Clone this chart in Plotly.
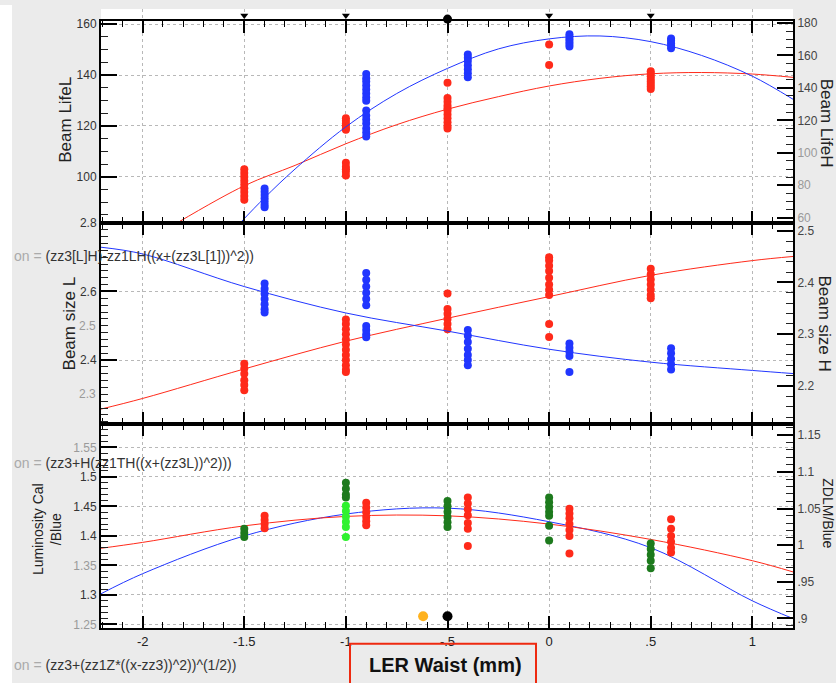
import plotly.graph_objects as go

# ---------------- data ----------------
x_tick_vals = [-2, -1.5, -1, -0.5, 0, 0.5, 1]
x_tick_text = ["-2", "-1.5", "-1", "-.5", "0", ".5", "1"]

# Top panel: beam lifetime (L = red, left axis; H = blue, right axis)
life_L_pos = [-1.5, -1.0, -0.5, 0.0, 0.5]
life_L_vals = [
    [103, 101.5, 100, 98.5, 97, 95.5, 94, 92.5, 91],
    [123, 122, 121, 120, 119, 118.5, 105.5, 104, 103, 102, 100.5],
    [137, 131, 129.5, 128, 127, 126, 124.5, 123, 121.5, 120, 119],
    [152, 144],
    [141.5, 140.5, 139.5, 138.5, 137.5, 136.5, 135.5, 134.5],
]
life_H_pos = [-1.4, -0.9, -0.4, 0.1, 0.6]
life_H_vals = [
    [78, 76, 74, 72, 70, 68, 66.5],
    [148.5, 146, 144, 141.5, 139, 136.5, 134, 132, 126, 123, 120.5, 118, 115, 112.5, 110],
    [160.5, 158.5, 156.5, 154, 151.5, 149, 146.5],
    [173, 171.5, 170, 168.5, 167, 165.5],
    [170.5, 169, 167.5, 166, 164.5],
]
fit_life_L_x = [-1.83, -1.5, -1.25, -1.0, -0.75, -0.5, -0.25, 0.0, 0.25, 0.5, 0.75, 1.0, 1.2]
fit_life_L_y = [81.9, 96.5, 104.5, 113, 120.5, 126.6, 131.5, 135.7, 138.7, 140.5, 141, 140.4, 139.1]
fit_life_H_x = [-1.52, -1.4, -1.25, -1.0, -0.75, -0.5, -0.25, 0.0, 0.25, 0.5, 0.75, 1.0, 1.2]
fit_life_H_y = [56.8, 72.3, 90, 116, 136.5, 152, 164, 170.2, 172, 168.5, 160, 147.2, 133]

# Middle panel: beam size (L = red, left axis; H = blue, right axis)
size_L_pos = [-1.5, -1.0, -0.5, 0.0, 0.5]
size_L_vals = [
    [2.389, 2.375, 2.36, 2.341, 2.327, 2.312],
    [2.518, 2.505, 2.49, 2.475, 2.46, 2.445, 2.43, 2.415, 2.4, 2.385, 2.372, 2.365],
    [2.594, 2.549, 2.535, 2.52, 2.505, 2.49],
    [2.70, 2.69, 2.675, 2.66, 2.64, 2.62, 2.605, 2.59, 2.505, 2.467],
    [2.666, 2.65, 2.635, 2.62, 2.605, 2.59, 2.58],
]
size_H_pos = [-1.4, -0.9, -0.4, 0.1, 0.6]
size_H_vals = [
    [2.398, 2.388, 2.378, 2.368, 2.358, 2.348, 2.342],
    [2.418, 2.405, 2.392, 2.38, 2.368, 2.356, 2.316, 2.308, 2.3, 2.294],
    [2.308, 2.297, 2.285, 2.272, 2.26, 2.25, 2.24],
    [2.282, 2.274, 2.266, 2.258, 2.227],
    [2.273, 2.263, 2.252, 2.242, 2.232],
]
fit_size_x = [-2.205, -2.0, -1.5, -1.0, -0.5, 0.0, 0.5, 1.0, 1.2]
fit_size_L_y = [2.257, 2.288, 2.374, 2.455, 2.522, 2.585, 2.647, 2.69, 2.702]
fit_size_H_y = [2.468, 2.455, 2.392, 2.341, 2.306, 2.271, 2.246, 2.23, 2.224]

# Bottom panel: luminosity
lumi_red_pos = [-1.4, -0.9, -0.4, 0.1, 0.6]
lumi_red_vals = [
    [1.434, 1.427, 1.42, 1.413],
    [1.456, 1.448, 1.44, 1.432, 1.425, 1.418],
    [1.465, 1.455, 1.445, 1.435, 1.422, 1.412, 1.383],
    [1.446, 1.438, 1.43, 1.42, 1.41, 1.4, 1.37],
    [1.428, 1.412, 1.4, 1.39, 1.38, 1.372],
]
lumi_green_pos = [-1.5, -1.0, -0.5, 0.0, 0.5]
lumi_green_vals = [
    [1.412, 1.405, 1.398],
    [1.49, 1.48, 1.47, 1.465],
    [1.459, 1.45, 1.441, 1.432, 1.423, 1.415],
    [1.465, 1.457, 1.449, 1.441, 1.434, 1.417, 1.392],
    [1.387, 1.378, 1.368, 1.358, 1.345],
]
lumi_lime_pos = [-1.0]
lumi_lime_vals = [[1.451, 1.442, 1.433, 1.424, 1.415, 1.398]]
fit_lumi_x = [-2.205, -2.0, -1.5, -1.0, -0.5, 0.0, 0.5, 1.0, 1.2]
fit_lumi_red_y = [1.379, 1.389, 1.417, 1.433, 1.434, 1.42, 1.394, 1.358, 1.339]
fit_lumi_blue_y = [1.302, 1.336, 1.400, 1.437, 1.447, 1.424, 1.38, 1.29, 1.26]

# extra markers
top_tri_x = [-1.5, -1.0, 0.0, 0.5]
top_tri_level = 0.45
top_dot_x = [-0.5]
top_dot_level = 0.15
waist_dot_x = [-0.62, -0.5]
waist_dot_level = 0.903
waist_dot_colors = ["#ffb21e", "#000000"]


def expand(pos, vals):
    xs, ys = [], []
    for p, v in zip(pos, vals):
        xs += [p] * len(v)
        ys += v
    return xs, ys


# ---------------- geometry helpers (pixels -> paper) ----------------
W, H = 836, 683
ML, MR, MT, MB = 101, 43, 2, 55
PW, PH = W - ML - MR, H - MT - MB


def px(p):
    return (p - ML) / PW


def py(p):
    return 1 - (p - MT) / PH


RED = "#ff2a1a"
BLUE = "#2136ff"
DGREEN = "#1d7a1d"
LIME = "#2ff22f"
FONT = "Liberation Sans, Arial, sans-serif"

fig = go.Figure()

mk = dict(size=8, line=dict(width=0))

# --- top panel ---
fig.add_trace(go.Scatter(x=fit_life_L_x, y=fit_life_L_y, mode="lines", line=dict(color=RED, width=1, shape="spline"),
                         xaxis="x", yaxis="y", showlegend=False))
fig.add_trace(go.Scatter(x=fit_life_H_x, y=fit_life_H_y, mode="lines", line=dict(color=BLUE, width=1, shape="spline"),
                         xaxis="x", yaxis="y2", showlegend=False))
xs, ys = expand(life_L_pos, life_L_vals)
fig.add_trace(go.Scatter(x=xs, y=ys, mode="markers", marker=dict(color=RED, **mk), xaxis="x", yaxis="y", showlegend=False))
xs, ys = expand(life_H_pos, life_H_vals)
fig.add_trace(go.Scatter(x=xs, y=ys, mode="markers", marker=dict(color=BLUE, **mk), xaxis="x", yaxis="y2", showlegend=False))

# markers above the top frame
fig.add_trace(go.Scatter(x=top_tri_x, y=[top_tri_level] * len(top_tri_x), mode="markers",
                         marker=dict(color="black", size=7, symbol="triangle-down"), cliponaxis=False,
                         xaxis="x", yaxis="y7", showlegend=False))
fig.add_trace(go.Scatter(x=top_dot_x, y=[top_dot_level] * len(top_dot_x), mode="markers",
                         marker=dict(color="black", size=9), cliponaxis=False,
                         xaxis="x", yaxis="y7", showlegend=False))

# --- middle panel ---
fig.add_trace(go.Scatter(x=fit_size_x, y=fit_size_L_y, mode="lines", line=dict(color=RED, width=1, shape="spline"),
                         xaxis="x2", yaxis="y3", showlegend=False))
fig.add_trace(go.Scatter(x=fit_size_x, y=fit_size_H_y, mode="lines", line=dict(color=BLUE, width=1, shape="spline"),
                         xaxis="x2", yaxis="y4", showlegend=False))
xs, ys = expand(size_L_pos, size_L_vals)
fig.add_trace(go.Scatter(x=xs, y=ys, mode="markers", marker=dict(color=RED, **mk), xaxis="x2", yaxis="y3", showlegend=False))
xs, ys = expand(size_H_pos, size_H_vals)
fig.add_trace(go.Scatter(x=xs, y=ys, mode="markers", marker=dict(color=BLUE, **mk), xaxis="x2", yaxis="y4", showlegend=False))

# --- bottom panel ---
fig.add_trace(go.Scatter(x=fit_lumi_x, y=fit_lumi_blue_y, mode="lines", line=dict(color=BLUE, width=1, shape="spline"),
                         xaxis="x3", yaxis="y5", showlegend=False))
fig.add_trace(go.Scatter(x=fit_lumi_x, y=fit_lumi_red_y, mode="lines", line=dict(color=RED, width=1, shape="spline"),
                         xaxis="x3", yaxis="y5", showlegend=False))
xs, ys = expand(lumi_green_pos, lumi_green_vals)
fig.add_trace(go.Scatter(x=xs, y=ys, mode="markers", marker=dict(color=DGREEN, **mk), xaxis="x3", yaxis="y5", showlegend=False))
xs, ys = expand(lumi_lime_pos, lumi_lime_vals)
fig.add_trace(go.Scatter(x=xs, y=ys, mode="markers", marker=dict(color=LIME, **mk), xaxis="x3", yaxis="y5", showlegend=False))
xs, ys = expand(lumi_red_pos, lumi_red_vals)
fig.add_trace(go.Scatter(x=xs, y=ys, mode="markers", marker=dict(color=RED, **mk), xaxis="x3", yaxis="y5", showlegend=False))
fig.add_trace(go.Scatter(x=waist_dot_x, y=[waist_dot_level] * len(waist_dot_x), mode="markers",
                         marker=dict(color=waist_dot_colors, size=10), xaxis="x3", yaxis="y6", showlegend=False))

# ---------------- axes ----------------
b_topedge, b_top, b_mid = 14, 218.3, 422
dom_top = [py(b_top), py(b_topedge)]
dom_mid = [py(b_mid), py(b_top)]
dom_bot = [0, py(b_mid)]

tickfont = dict(family=FONT, size=12, color="#333")


def xaxis(anchor, show_labels):
    return dict(
        domain=[0, 1], anchor=anchor, range=[-2.205, 1.2],
        tickvals=x_tick_vals, ticktext=x_tick_text, showticklabels=show_labels,
        ticks="inside", ticklen=12, tickwidth=1.5, tickcolor="black",
        showline=True, linecolor="black", linewidth=2, mirror="ticks",
        showgrid=True, gridcolor="#b8b8b8", griddash="dot", gridwidth=1, zeroline=False,
        minor=dict(dtick=0.1, tick0=0, ticks="inside", ticklen=6, tickcolor="black", tickwidth=1.2, showgrid=False),
        tickfont=dict(family=FONT, size=13, color="#222"),
    )


def yleft(domain, rng, tickvals, ticktext, minor_dtick, tick0):
    return dict(
        domain=domain, anchor="x", range=rng, tickvals=tickvals, ticktext=ticktext,
        ticks="inside", ticklen=16, tickwidth=2, tickcolor="black",
        showline=True, linecolor="black", linewidth=2, mirror=False,
        showgrid=True, gridcolor="#b8b8b8", griddash="dot", gridwidth=1, zeroline=False,
        minor=dict(dtick=minor_dtick, tick0=tick0, ticks="inside", ticklen=7, tickcolor="#222", tickwidth=1, showgrid=False),
        tickfont=tickfont,
    )


def yright(overlay, rng, tickvals, ticktext, minor_dtick, tick0):
    return dict(
        overlaying=overlay, side="right", range=rng, tickvals=tickvals, ticktext=ticktext,
        ticks="inside", ticklen=16, tickwidth=2, tickcolor="black",
        showline=True, linecolor="black", linewidth=2, showgrid=False, zeroline=False,
        minor=dict(dtick=minor_dtick, tick0=tick0, ticks="inside", ticklen=7, tickcolor="#222", tickwidth=1, showgrid=False),
        tickfont=dict(family=FONT, size=12, color="#444"),
    )


def light(t):
    return "<span style='color:#9a9a9a'>" + t + "</span>"


ya = yleft(dom_top, [81.9, 161.3], [100, 120, 140, 160], ["100", "120", "140", "160"], 5, 0)
ya2 = yright("y", [56.8, 181.3], [60, 80, 100, 120, 140, 160, 180],
             [light("60"), light("80"), light("100"), "120", "140", "160", "180"], 5, 0)
ya3 = yleft(dom_mid, [2.2126, 2.8], [2.4, 2.6, 2.8], ["2.4", "2.6", "2.8"], 0.02, 0)
ya4 = yright("y3", [2.126, 2.515], [2.2, 2.3, 2.4, 2.5], ["2.2", "2.3", "2.4", "2.5"], 0.02, 0)
ya5 = yleft(dom_bot, [1.244, 1.589], [1.25, 1.3, 1.35, 1.4, 1.45, 1.5, 1.55],
            [light("1.25"), "1.3", light("1.35"), "1.4", "1.45", "1.5", light("1.55")], 0.01, 0)
ya6 = yright("y5", [0.887, 1.165], [0.9, 0.95, 1.0, 1.05, 1.1, 1.15],
             [".9", ".95", "1", "1.05", "1.1", "1.15"], 0.01, 0)
ya2["anchor"] = "x"
ya4["anchor"] = "x2"
ya6["anchor"] = "x3"
ya3["anchor"] = "x2"
ya5["anchor"] = "x3"
ya7 = dict(domain=[py(b_topedge), 1], anchor="x", range=[0, 1], visible=False, showgrid=False, zeroline=False)

# ---------------- annotations ----------------
ann = []


def text(t, x, y, size=17, angle=0, color="#222", xanchor="center", bold=False, xref="paper", yref="paper"):
    ann.append(dict(text=("<b>%s</b>" % t) if bold else t, x=x, y=y, xref=xref, yref=yref,
                    xanchor=xanchor, yanchor="middle", showarrow=False, textangle=angle,
                    font=dict(family=FONT, size=size, color=color)))


text("Beam LifeL", px(66), py(114), angle=-90)
text("Beam size L", px(69), py(320), angle=-90)
text("Luminosity Cal<br>/Blue", px(47), py(528), size=14, angle=-90)
text("Beam LifeH", px(826), py(117), angle=90)
text("Beam size H", px(825), py(320), angle=90)
text("ZDLM/Blue", px(828), py(512), size=14, angle=90)
text("LER Waist (mm)", px(445), py(665), size=20, bold=True, color="#111")

# lighter intermediate labels on the middle-left axis
for v in [2.3, 2.5]:
    text(str(v), px(98), v, size=12, color="#9a9a9a", xanchor="right", yref="y3")

# garbled formula strings
text("<span style='color:#aaa'>on =</span> (zz3[L]H)-zz1LH((x+(zz3L[1]))^2))", px(12), py(252), size=14,
     color="#333", xanchor="left")
text("<span style='color:#aaa'>on =</span> (zz3+H(zz1TH((x+(zz3L))^2)))", px(12), py(461), size=14,
     color="#333", xanchor="left")
text("<span style='color:#aaa'>on =</span> (zz3+(zz1Z*((x-zz3))^2))^(1/2))", px(12), py(665), size=14,
     color="#333", xanchor="left")

shapes = [
    dict(type="rect", xref="paper", yref="paper", x0=px(-2), x1=px(12), y0=py(700), y1=py(-2),
         fillcolor="white", line=dict(width=0), layer="below"),
    dict(type="rect", xref="paper", yref="paper", x0=px(350), x1=px(536), y0=py(700), y1=py(644),
         fillcolor="rgba(0,0,0,0)", line=dict(color="#ee2a10", width=2)),
]

fig.update_layout(
    width=W, height=H,
    margin=dict(l=ML, r=MR, t=MT, b=MB),
    paper_bgcolor="#ebebeb", plot_bgcolor="white",
    font=dict(family=FONT),
    xaxis=xaxis("y", False),
    xaxis2=xaxis("y3", False),
    xaxis3=xaxis("y5", True),
    yaxis=ya, yaxis2=ya2, yaxis3=ya3, yaxis4=ya4, yaxis5=ya5, yaxis6=ya6, yaxis7=ya7,
    annotations=ann, shapes=shapes, showlegend=False,
)

fig.write_html("out.html")
